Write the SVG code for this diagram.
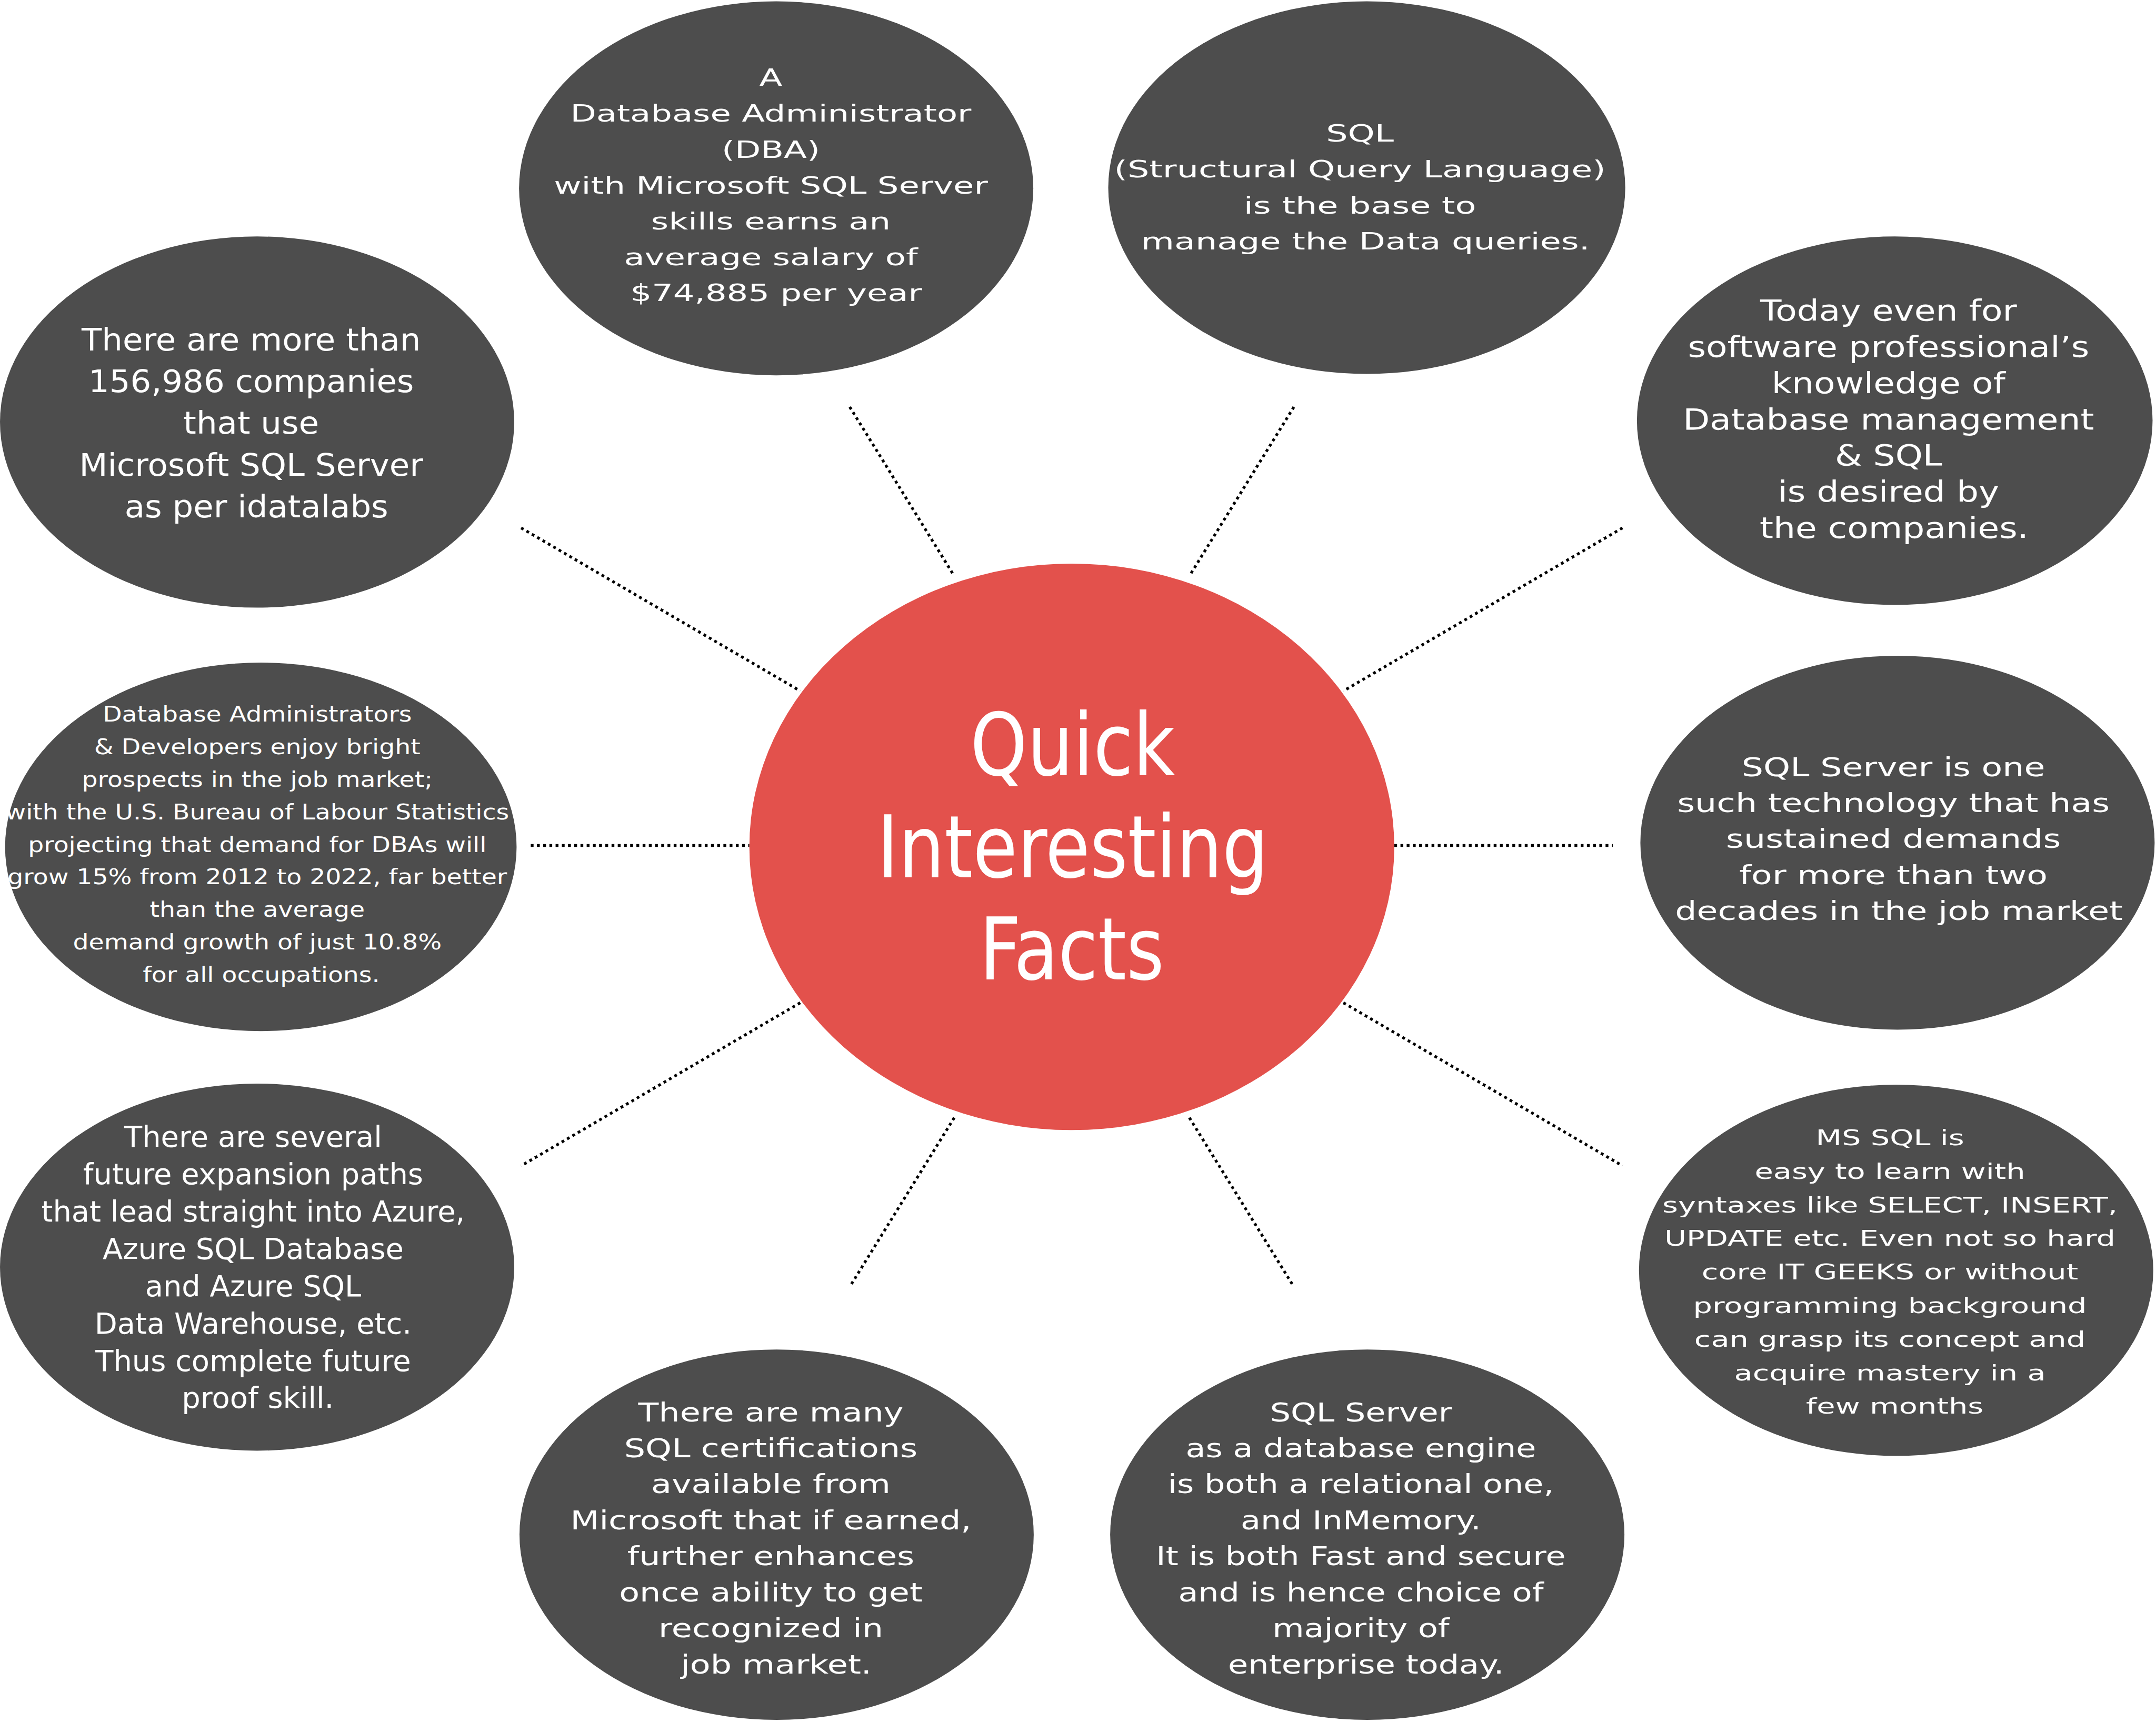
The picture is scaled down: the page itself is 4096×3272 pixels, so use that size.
<svg xmlns="http://www.w3.org/2000/svg" width="4096" height="3272" viewBox="0 0 4096 3272">
<style>
.bub{fill:#4D4D4D}
.hub{fill:#E3514C}
.t{fill:#FFFFFF;font-family:"DejaVu Sans","Liberation Sans",sans-serif;text-anchor:middle}
.title{fill:#FFFFFF;font-family:"DejaVu Sans Condensed","DejaVu Sans",sans-serif;text-anchor:middle}
.c{stroke:#000000;stroke-width:2.05;stroke-dasharray:2.05 2.47;fill:none}
</style>
<rect x="0" y="0" width="4096" height="3272" fill="#FFFFFF"/>
<g transform="scale(2.61224)">
<g id="connectors">
<line class="c" x1="618" y1="296" x2="694" y2="419"/>
<line class="c" x1="941" y1="296" x2="865" y2="419"/>
<line class="c" x1="1180" y1="384" x2="977" y2="502.6"/>
<line class="c" x1="1014" y1="615" x2="1173" y2="615"/>
<line class="c" x1="977" y1="729.4" x2="1180" y2="848"/>
<line class="c" x1="865" y1="813" x2="941" y2="936"/>
<line class="c" x1="694" y1="813" x2="618" y2="936"/>
<line class="c" x1="582" y1="729.4" x2="379" y2="848"/>
<line class="c" x1="386" y1="615" x2="545" y2="615"/>
<line class="c" x1="379" y1="384" x2="582" y2="502.6"/>
</g>
<g id="hub">
<ellipse class="hub" cx="779.5" cy="616" rx="234.5" ry="206"/>
<text class="title" font-size="63" transform="translate(779.5,0) scale(0.93,1)">
<tspan x="9.7" y="563.7">Quick</tspan>
<tspan x="9.7" y="638">Interesting</tspan>
<tspan x="0" y="712.4">Facts</tspan>
</text>
</g>
<g id="n1">
<ellipse class="bub" cx="564.5" cy="137" rx="187" ry="136"/>
<text class="t" font-size="16.9" transform="translate(564.5,0) scale(1.45,1)">
<tspan x="0" y="62.5">A</tspan>
<tspan x="0" y="88.6">Database Administrator</tspan>
<tspan x="0" y="114.7">(DBA)</tspan>
<tspan x="0" y="140.8">with Microsoft SQL Server</tspan>
<tspan x="0" y="166.9">skills earns an</tspan>
<tspan x="0" y="193">average salary of</tspan>
<tspan x="0" y="219.1">$74,885 per year</tspan>
</text>
</g>
<g id="n2">
<ellipse class="bub" cx="994" cy="136.5" rx="188" ry="135.5"/>
<text class="t" font-size="17.2" transform="translate(993,0) scale(1.45,1)">
<tspan x="0" y="103">SQL</tspan>
<tspan x="0" y="129.2">(Structural Query Language)</tspan>
<tspan x="0" y="155.4">is the base to</tspan>
<tspan x="0" y="181.6">manage the Data queries.</tspan>
</text>
</g>
<g id="n3">
<ellipse class="bub" cx="1378" cy="306" rx="187.5" ry="134"/>
<text class="t" font-size="20.8" transform="translate(1377.5,0) scale(1.22,1)">
<tspan x="0" y="233.2">Today even for</tspan>
<tspan x="0" y="259.5">software professional’s</tspan>
<tspan x="0" y="285.9">knowledge of</tspan>
<tspan x="0" y="312.2">Database management</tspan>
<tspan x="0" y="338.5">&amp; SQL</tspan>
<tspan x="0" y="364.9">is desired by</tspan>
<tspan x="0" y="391.2">the companies.</tspan>
</text>
</g>
<g id="n4">
<ellipse class="bub" cx="1380" cy="613" rx="187" ry="136"/>
<text class="t" font-size="19" transform="translate(1381,0) scale(1.31,1)">
<tspan x="0" y="564.5">SQL Server is one</tspan>
<tspan x="0" y="590.7">such technology that has</tspan>
<tspan x="0" y="616.9">sustained demands</tspan>
<tspan x="0" y="643.1">for more than two</tspan>
<tspan x="0" y="669.3">decades in the job market</tspan>
</text>
</g>
<g id="n5">
<ellipse class="bub" cx="1379" cy="924" rx="187" ry="135"/>
<text class="t" font-size="15.6" transform="translate(1378,0) scale(1.41,1)">
<tspan x="0" y="833">MS SQL is</tspan>
<tspan x="0" y="857.4">easy to learn with</tspan>
<tspan x="0" y="881.9">syntaxes like SELECT, INSERT,</tspan>
<tspan x="0" y="906.3">UPDATE etc. Even not so hard</tspan>
<tspan x="0" y="930.7">core IT GEEKS or without</tspan>
<tspan x="0" y="955.2">programming background</tspan>
<tspan x="0" y="979.6">can grasp its concept and</tspan>
<tspan x="0" y="1004">acquire mastery in a</tspan>
<tspan x="0" y="1028.4">few months</tspan>
</text>
</g>
<g id="n6">
<ellipse class="bub" cx="994.4" cy="1116.3" rx="187" ry="134.7"/>
<text class="t" font-size="19.1" transform="translate(993.5,0) scale(1.242,1)">
<tspan x="0" y="1033.8">SQL Server</tspan>
<tspan x="0" y="1060">as a database engine</tspan>
<tspan x="0" y="1086.2">is both a relational one,</tspan>
<tspan x="0" y="1112.4">and InMemory.</tspan>
<tspan x="0" y="1138.6">It is both Fast and secure</tspan>
<tspan x="0" y="1164.9">and is hence choice of</tspan>
<tspan x="0" y="1191.1">majority of</tspan>
<tspan x="0" y="1217.3">enterprise today.</tspan>
</text>
</g>
<g id="n7">
<ellipse class="bub" cx="564.8" cy="1116.3" rx="187" ry="134.7"/>
<text class="t" font-size="19.1" transform="translate(564.5,0) scale(1.274,1)">
<tspan x="0" y="1033.8">There are many</tspan>
<tspan x="0" y="1060">SQL certifications</tspan>
<tspan x="0" y="1086.2">available from</tspan>
<tspan x="0" y="1112.4">Microsoft that if earned,</tspan>
<tspan x="0" y="1138.6">further enhances</tspan>
<tspan x="0" y="1164.9">once ability to get</tspan>
<tspan x="0" y="1191.1">recognized in</tspan>
<tspan x="0" y="1217.3">job market.</tspan>
</text>
</g>
<g id="n8">
<ellipse class="bub" cx="187" cy="921.7" rx="187" ry="133.5"/>
<text class="t" font-size="21.4" transform="translate(187.5,0)">
<tspan x="0" y="834.3">There are several</tspan>
<tspan x="0" y="861.4">future expansion paths</tspan>
<tspan x="0" y="888.6">that lead straight into Azure,</tspan>
<tspan x="0" y="915.7">Azure SQL Database</tspan>
<tspan x="0" y="942.8">and Azure SQL</tspan>
<tspan x="0" y="969.9">Data Warehouse, etc.</tspan>
<tspan x="0" y="997.1">Thus complete future</tspan>
<tspan x="0" y="1024.2">proof skill.</tspan>
</text>
</g>
<g id="n9">
<ellipse class="bub" cx="189.7" cy="616" rx="186" ry="134"/>
<text class="t" font-size="15.6" transform="translate(190,0) scale(1.16,1)">
<tspan x="0" y="524.9">Database Administrators</tspan>
<tspan x="0" y="548.6">&amp; Developers enjoy bright</tspan>
<tspan x="0" y="572.3">prospects in the job market;</tspan>
<tspan x="0" y="595.9">with the U.S. Bureau of Labour Statistics</tspan>
<tspan x="0" y="619.6">projecting that demand for DBAs will</tspan>
<tspan x="0" y="643.3">grow 15% from 2012 to 2022, far better</tspan>
<tspan x="0" y="667">than the average</tspan>
<tspan x="0" y="690.7">demand growth of just 10.8%</tspan>
<tspan x="0" y="714.3">for all occupations.</tspan>
</text>
</g>
<g id="n10">
<ellipse class="bub" cx="187" cy="307" rx="187" ry="135"/>
<text class="t" font-size="22.6" transform="translate(186.5,0) scale(1.06,1)">
<tspan x="0" y="254.8">There are more than</tspan>
<tspan x="0" y="285.2">156,986 companies</tspan>
<tspan x="0" y="315.5">that use</tspan>
<tspan x="0" y="345.9">Microsoft SQL Server</tspan>
<tspan x="0" y="376.2">as per idatalabs</tspan>
</text>
</g>
</g>
</svg>
